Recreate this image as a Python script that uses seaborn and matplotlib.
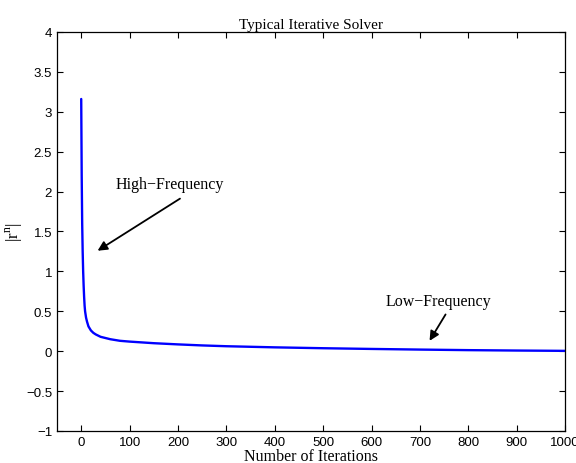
import matplotlib
matplotlib.use('Agg')
import matplotlib.pyplot as plt
import pandas as pd
import seaborn as sns

# residual norm
iterations = [0, 1, 2, 3, 4, 5, 6, 7, 8, 10, 12, 15, 20, 25, 30, 40, 60, 80,
              100, 150, 200, 250, 300, 400, 500, 600, 700, 800, 900, 1000]
residual = [3.16, 2.2, 1.6, 1.25, 1.0, 0.82, 0.68, 0.57, 0.5, 0.42, 0.37,
            0.31, 0.26, 0.23, 0.21, 0.18, 0.15, 0.13, 0.12, 0.10, 0.085,
            0.072, 0.062, 0.048, 0.037, 0.028, 0.020, 0.013, 0.008, 0.004]

xticks = [0, 100, 200, 300, 400, 500, 600, 700, 800, 900, 1000]
yticks = [-1, -0.5, 0, 0.5, 1, 1.5, 2, 2.5, 3, 3.5, 4]

df = pd.DataFrame({'n': iterations, 'r': residual})

sns.set_style('ticks')
plt.rcParams['font.family'] = ['Liberation Sans', 'DejaVu Sans']
plt.rcParams['text.color'] = 'black'
plt.rcParams['axes.labelcolor'] = 'black'
plt.rcParams['mathtext.fontset'] = 'custom'
plt.rcParams['mathtext.rm'] = 'Liberation Serif'

fig = plt.figure(figsize=(5.76, 4.64), dpi=100)
ax = fig.add_axes([0.099, 0.069, 0.882, 0.860])

sns.lineplot(x='n', y='r', data=df, ax=ax, color='#0000ff', linewidth=1.7)

ax.set_xlim(-50, 1000)
ax.set_ylim(-1, 4)
ax.set_xticks(xticks)
ax.set_yticks(yticks)
ax.set_xticklabels([str(t) for t in xticks])
ax.set_yticklabels([f'{t:g}'.replace('-', '\u2212') for t in yticks])
ax.tick_params(direction='in', top=True, right=True, labelsize=9.5, length=4,
               width=0.8, colors='black')
for s in ax.spines.values():
    s.set_linewidth(0.9)
    s.set_color('black')

serif = ['Liberation Serif', 'DejaVu Serif']
ax.set_title('Typical Iterative Solver', family=serif, fontsize=11, pad=3)
ax.set_xlabel('Number of Iterations', family=serif, fontsize=11.5, labelpad=0)
ax.set_ylabel(r'$|\mathrm{r}^{\mathrm{n}}|$', family=serif, fontsize=12,
              labelpad=1)

arrow = dict(arrowstyle='-|>', color='black', lw=1.3, mutation_scale=14)
ax.annotate('', xy=(29, 1.24), xytext=(209, 1.93), arrowprops=arrow)
ax.text(184, 2.1, 'High\u2212Frequency', family=serif, fontsize=11.5,
        ha='center', va='center')
ax.annotate('', xy=(717, 0.1), xytext=(756, 0.49), arrowprops=arrow)
ax.text(738, 0.63, 'Low\u2212Frequency', family=serif, fontsize=11.5,
        ha='center', va='center')

fig.savefig('out.png', dpi=100)
